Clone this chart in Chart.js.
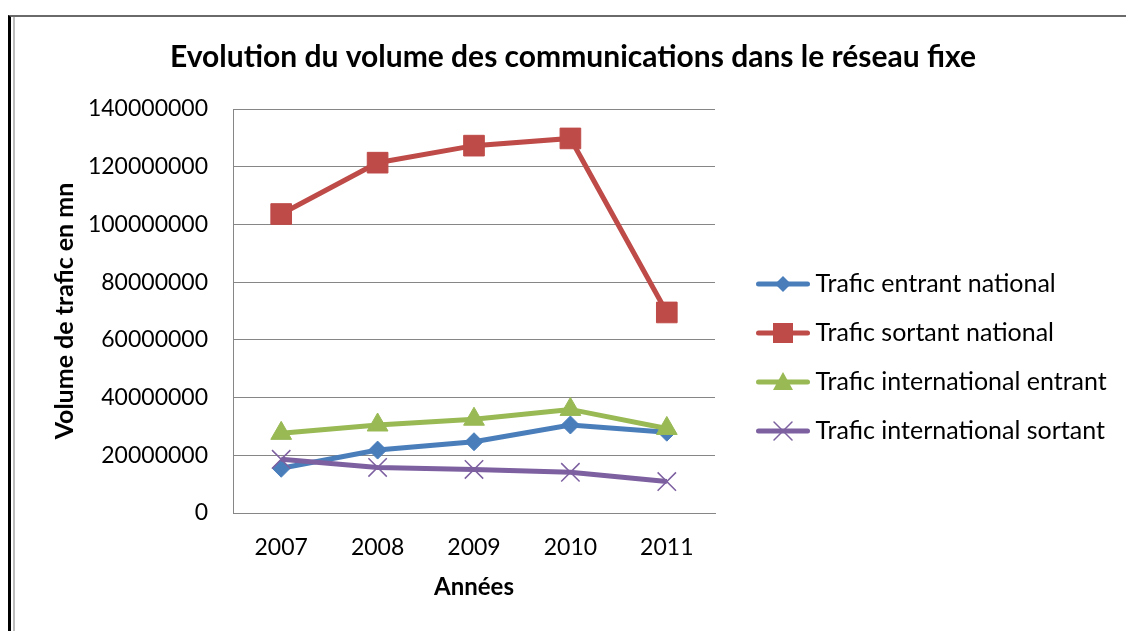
<!DOCTYPE html>
<html lang="fr">
<head>
<meta charset="UTF-8">
<title>Evolution du volume des communications dans le réseau fixe</title>
<style>
    html, body { margin: 0; padding: 0; background: #fff; }
    #wrap { position: relative; width: 1126px; height: 631px; overflow: hidden; }
    #lineChart { position: absolute; left: 0; top: 0; }
    .frame { position: absolute; left: 8px; top: 15px; right: 0; bottom: 0; border-left: 3px solid #000; border-top: 2px solid #6a6a6a; }
    .frame2 { position: absolute; left: 13px; top: 17px; bottom: 0; border-left: 2px solid #bdbdbd; }
</style>
</head>
<body>
<div id="wrap">
    <canvas id="lineChart" width="1126" height="631"></canvas>
    <div class="frame"></div>
    <div class="frame2"></div>
</div>
<script src="https://cdn.jsdelivr.net/npm/chart.js@4/dist/chart.umd.min.js"></script>
<script>
    const years = ["2007", "2008", "2009", "2010", "2011"];
    const entrantNational = [15500000, 21800000, 24700000, 30500000, 28000000];
    const sortantNational = [103600000, 121400000, 127300000, 129800000, 69500000];
    const internationalEntrant = [27600000, 30500000, 32500000, 35900000, 29300000];
    const internationalSortant = [18600000, 15800000, 15100000, 14100000, 10900000];
    const seriesNames = [
        "Trafic entrant national",
        "Trafic sortant national",
        "Trafic international entrant",
        "Trafic international sortant"
    ];
    const yTicks = [0, 20000000, 40000000, 60000000, 80000000, 100000000, 120000000, 140000000];

    const blue = "#4a7ebb";
    const red = "#be4b48";
    const green = "#98b954";
    const purple = "#7d60a0";
    const font = "Lato";

    // small legend pictures: line with the marker in the middle
    const legendIcon = (color, shape) => {
        const c = document.createElement("canvas");
        c.width = 78;
        c.height = 24;
        const g = c.getContext("2d");
        g.strokeStyle = color;
        g.fillStyle = color;
        g.lineWidth = 5;
        g.lineCap = "round";
        g.beginPath();
        g.moveTo(26.5, 12);
        g.lineTo(75.5, 12);
        g.stroke();
        const cx = 51, cy = 12;
        g.beginPath();
        if (shape === "diamond") {
            g.moveTo(cx, cy - 8); g.lineTo(cx + 8, cy); g.lineTo(cx, cy + 8); g.lineTo(cx - 8, cy);
            g.closePath(); g.fill();
        } else if (shape === "square") {
            g.rect(cx - 10, cy - 10, 20, 20); g.fill();
        } else if (shape === "triangle") {
            g.moveTo(cx, cy - 10); g.lineTo(cx + 10, cy + 8); g.lineTo(cx - 10, cy + 8);
            g.closePath(); g.fill();
        } else {
            g.lineWidth = 1.5;
            g.moveTo(cx - 9, cy - 9); g.lineTo(cx + 9, cy + 9);
            g.moveTo(cx + 9, cy - 9); g.lineTo(cx - 9, cy + 9);
            g.stroke();
        }
        return c;
    };
    const legendIcons = [
        legendIcon(blue, "diamond"),
        legendIcon(red, "square"),
        legendIcon(green, "triangle"),
        legendIcon(purple, "cross")
    ];

    const makeSet = (label, data, color, style, radius, order, bw) => ({
        label: label,
        data: data,
        borderColor: color,
        backgroundColor: color,
        borderWidth: 5,
        pointStyle: style,
        pointRadius: radius,
        pointHoverRadius: radius,
        pointBorderWidth: bw,
        pointBackgroundColor: color,
        pointBorderColor: color,
        tension: 0,
        order: order
    });

    const ctx = document.getElementById("lineChart").getContext("2d");
    const myLineChart = new Chart(ctx, {
        type: "line",
        data: {
            labels: years,
            datasets: [
                makeSet(seriesNames[0], entrantNational, blue, "rectRot", 9, 3, 1),
                makeSet(seriesNames[1], sortantNational, red, "rect", 14.6, 2, 1),
                makeSet(seriesNames[2], internationalEntrant, green, "triangle", 12, 1, 1),
                makeSet(seriesNames[3], internationalSortant, purple, "crossRot", 13, 0, 1.5)
            ]
        },
        options: {
            responsive: false,
            devicePixelRatio: 1,
            animation: false,
            layout: { padding: { left: 30, right: 10, top: 0, bottom: 29 } },
            plugins: {
                title: {
                    display: true,
                    text: "Evolution du volume des communications dans le réseau fixe",
                    color: "#000",
                    font: { family: font, size: 30, weight: "bold" },
                    padding: { top: 39, bottom: 34 }
                },
                legend: {
                    display: true,
                    position: "right",
                    align: "start",
                    maxWidth: 401,
                    title: { display: true, text: " ", font: { size: 10 }, padding: { top: 235.5, bottom: 0 } },
                    labels: {
                        usePointStyle: true,
                        pointStyleWidth: 64,
                        padding: 24,
                        color: "#000",
                        font: { family: font, size: 25 },
                        generateLabels: (chart) => chart.data.datasets.map((ds, i) => ({
                            text: ds.label,
                            pointStyle: legendIcons[i],
                            fillStyle: ds.borderColor,
                            strokeStyle: ds.borderColor,
                            lineWidth: 0,
                            hidden: false,
                            fontColor: "#000",
                            datasetIndex: i
                        }))
                    }
                },
                tooltip: { enabled: false }
            },
            scales: {
                x: {
                    offset: true,
                    afterFit: (scale) => { scale.height = 89; },
                    grid: { display: false, drawTicks: false },
                    border: { display: true, color: "#868686", width: 1 },
                    ticks: { color: "#000", padding: 21, font: { family: font, size: 23 } },
                    title: {
                        display: true,
                        text: "Années",
                        color: "#000",
                        font: { family: font, size: 24, weight: "bold" },
                        padding: { top: 0, bottom: 0 }
                    }
                },
                y: {
                    min: 0,
                    max: 140000000,
                    afterFit: (scale) => { scale.width = 203; },
                    afterBuildTicks: (scale) => { scale.ticks = yTicks.map(v => ({ value: v })); },
                    grid: { color: "#868686", lineWidth: 1, drawTicks: false },
                    border: { display: true, color: "#868686", width: 1 },
                    ticks: {
                        color: "#000",
                        padding: 25,
                        font: { family: font, size: 23 },
                        callback: (v) => String(v)
                    },
                    title: {
                        display: true,
                        text: "Volume de trafic en mn",
                        color: "#000",
                        font: { family: font, size: 25, weight: "bold" },
                        padding: { top: 20, bottom: 0 }
                    }
                }
            }
        }
    });
</script>
</body>
</html>
